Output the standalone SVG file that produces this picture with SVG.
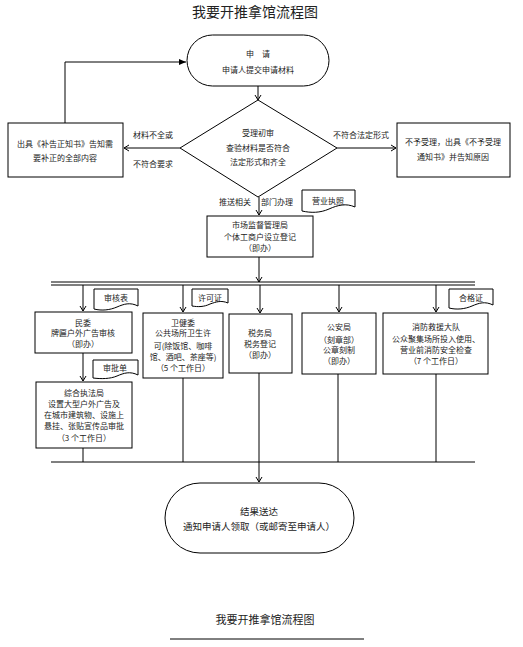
<svg xmlns="http://www.w3.org/2000/svg" width="523" height="647" viewBox="0 0 523 647">
<defs>
<style>
text{font-family:"Noto Sans CJK SC","Noto Sans",sans-serif;fill:#222;font-size:8px;text-anchor:middle}
.t{font-size:14px}
.b{font-size:9.5px}
.s{font-size:11px}
.box{fill:#fff;stroke:#000;stroke-width:1}
.ln{fill:none;stroke:#000;stroke-width:1}
.doc{fill:#fff;stroke:#000;stroke-width:1}
</style>
<marker id="ar" markerWidth="8" markerHeight="8" refX="6" refY="4" orient="auto" markerUnits="userSpaceOnUse">
<path d="M1,1 L6,4 L1,7" fill="none" stroke="#000" stroke-width="1"/>
</marker>
<marker id="af" markerWidth="8" markerHeight="8" refX="7" refY="4" orient="auto" markerUnits="userSpaceOnUse">
<path d="M0,1 L7,4 L0,7 Z" fill="#000"/>
</marker>
</defs>
<rect width="523" height="647" fill="#fff"/>
<text class="t" x="255" y="17">我要开推拿馆流程图</text>

<g id="connectors">
<path class="ln" d="M258,86 V100" marker-end="url(#ar)"/>
<path class="ln" d="M180,148 H124" marker-end="url(#ar)"/>
<path class="ln" d="M337,148 H396" marker-end="url(#ar)"/>
<path class="ln" d="M65,123 V62 H186" marker-end="url(#af)"/>
<path class="ln" d="M259,197 V215" marker-end="url(#ar)"/>
<path class="ln" d="M259,257 V282" marker-end="url(#ar)"/>
<path class="ln" d="M51,282 H475 M51,285 H475"/>
<path class="ln" d="M83,285 V311" marker-end="url(#ar)"/>
<path class="ln" d="M183,285 V312" marker-end="url(#ar)"/>
<path class="ln" d="M260,285 V313" marker-end="url(#ar)"/>
<path class="ln" d="M339,285 V312" marker-end="url(#ar)"/>
<path class="ln" d="M436,285 V312" marker-end="url(#ar)"/>
<path class="ln" d="M83,353 V381" marker-end="url(#ar)"/>
<path class="ln" d="M83,448 V462 M183,378 V462 M338,374 V462 M436,374 V462 M51,462 H475"/>
<path class="ln" d="M259,373 V482" marker-end="url(#ar)"/>
</g>

<g id="start">
<rect class="box" x="187" y="35" width="142" height="51" rx="25.5"/>
<text x="258" y="57">申　请</text>
<text x="258" y="73">申请人提交申请材料</text>
</g>

<g id="review">
<path class="box" d="M258,100 L337,148 L258,197 L180,148 Z"/>
<text x="258" y="136">受理初审</text>
<text x="258" y="151">查验材料是否符合</text>
<text x="258" y="165">法定形式和齐全</text>
</g>

<g id="labels">
<text x="153" y="138">材料不全或</text>
<text x="153" y="167">不符合要求</text>
<text x="361" y="138">不符合法定形式</text>
<text x="235" y="205">推送相关</text>
<text x="277" y="205">部门办理</text>
</g>

<g id="supplement">
<rect class="box" x="8" y="123" width="115" height="54"/>
<text x="65" y="147">出具《补告正知书》告知需</text>
<text x="65" y="161">要补正的全部内容</text>
</g>

<g id="reject">
<rect class="box" x="397" y="123" width="113" height="54"/>
<text x="453" y="145">不予受理，出具《不予受理</text>
<text x="453" y="160">通知书》并告知原因</text>
</g>

<g id="license-doc">
<path class="doc" d="M302,190 H355 V207 C346,203 338,205 329,209 C320,213 311,213 302,211 Z"/>
<text x="328" y="204">营业执照</text>
</g>

<g id="market">
<rect class="box" x="207" y="216" width="106" height="41"/>
<text x="260" y="228">市场监督管理局</text>
<text x="260" y="240">个体工商户设立登记</text>
<text x="260" y="251">（即办）</text>
</g>

<g id="minwei">
<rect class="box" x="35" y="312" width="97" height="41"/>
<text x="83" y="326">民委</text>
<text x="83" y="336">牌匾户外广告审核</text>
<text x="83" y="347">（即办）</text>
</g>

<g id="doc-shenhe">
<path class="doc" d="M94,289 H138 V306 C130,302 124,304 117,307 C110,310 102,311 94,309 Z"/>
<text x="116" y="301">审核表</text>
</g>

<g id="weijian">
<rect class="box" x="143" y="313" width="80" height="65"/>
<text x="183" y="326">卫健委</text>
<text x="183" y="336">公共场所卫生许</text>
<text x="183" y="349">可(除饭馆、咖啡</text>
<text x="183" y="360">馆、酒吧、茶座等)</text>
<text x="183" y="371">（5 个工作日）</text>
</g>

<g id="doc-xuke">
<path class="doc" d="M192,289 H228 V303 C221,300 216,302 210,304 C204,307 198,307 192,306 Z"/>
<text x="210" y="301">许可证</text>
</g>

<g id="shuiwu">
<rect class="box" x="229" y="314" width="63" height="59"/>
<text x="260" y="336">税务局</text>
<text x="260" y="347">税务登记</text>
<text x="260" y="358">（即办）</text>
</g>

<g id="gongan">
<rect class="box" x="302" y="313" width="74" height="61"/>
<text x="339" y="330">公安局</text>
<text x="339" y="343">（刻章部）</text>
<text x="339" y="353">公章刻制</text>
<text x="339" y="364">（即办）</text>
</g>

<g id="xiaofang">
<rect class="box" x="383" y="313" width="105" height="61"/>
<text x="436" y="330">消防救援大队</text>
<text x="436" y="342">公众聚集场所投入使用、</text>
<text x="436" y="353">营业前消防安全检查</text>
<text x="436" y="364">（7 个工作日）</text>
</g>

<g id="doc-hege">
<path class="doc" d="M449,289 H493 V305 C485,301 479,303 472,306 C465,309 457,310 449,308 Z"/>
<text x="471" y="301">合格证</text>
</g>

<g id="doc-shenpi">
<path class="doc" d="M93,360 H138 V375 C130,371 124,373 117,376 C110,379 101,379 93,378 Z"/>
<text x="115" y="371">审批单</text>
</g>

<g id="zonghe">
<rect class="box" x="36" y="382" width="96" height="66"/>
<text x="84" y="396">综合执法局</text>
<text x="84" y="407">设置大型户外广告及</text>
<text x="84" y="418">在城市建筑物、设施上</text>
<text x="84" y="429">悬挂、张贴宣传品审批</text>
<text x="84" y="441">（3 个工作日）</text>
</g>

<g id="result">
<rect class="box" x="165" y="483" width="189" height="70" rx="35"/>
<text class="b" x="259" y="515">结果送达</text>
<text class="b" x="259" y="530">通知申请人领取（或邮寄至申请人）</text>
</g>

<text class="s" x="265" y="624">我要开推拿馆流程图</text>
<path class="ln" d="M170,639 H364"/>
</svg>
